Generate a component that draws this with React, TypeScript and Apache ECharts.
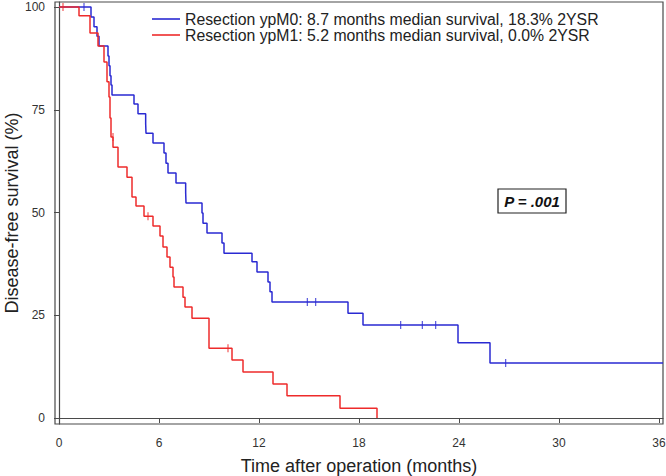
import React, { useEffect, useRef } from "react";
import * as echarts from "echarts";

// Kaplan-Meier steps: time (months) -> survival (%) after the drop
const m0Times = [0, 1.92, 2.1, 2.28, 2.4, 2.94, 3.0, 3.06, 3.12, 3.18, 4.5, 4.74, 5.2, 5.22, 5.64, 6.3, 6.42, 6.54, 7.02, 7.6, 7.62, 8.58, 8.64, 8.88, 9.78, 9.9, 11.58, 11.88, 12.54, 12.66, 12.78, 17.34, 18.24, 23.94, 25.86, 36.24];
const m0Surv = [100, 97.6, 95.2, 92.9, 90.5, 88.1, 85.7, 83.3, 81.0, 78.6, 76.4, 74.0, 71.6, 69.3, 66.9, 64.5, 62.0, 59.6, 57.2, 54.8, 52.3, 49.9, 47.4, 45.0, 42.6, 40.1, 38.0, 35.5, 33.1, 30.7, 28.2, 25.5, 22.6, 18.3, 13.4, 13.4];
const m0CensorTimes = [1.5, 14.9, 15.4, 20.5, 21.8, 22.6, 26.8];
const m0CensorSurv = [100, 28.2, 28.2, 22.6, 22.6, 22.6, 13.4];

const m1Times = [0, 1.2, 1.86, 2.34, 2.7, 2.88, 3.0, 3.06, 3.12, 3.24, 3.54, 4.08, 4.38, 4.62, 5.1, 5.64, 6.06, 6.24, 6.48, 6.66, 6.84, 6.9, 7.44, 7.56, 7.98, 9.0, 10.38, 11.04, 12.84, 13.68, 16.86, 19.08];
const m1Surv = [100, 97.9, 93.7, 90.5, 86.6, 81.8, 78.1, 73.0, 68.4, 65.9, 61.1, 58.6, 53.8, 51.6, 49.1, 46.7, 44.3, 41.6, 39.2, 36.7, 34.3, 31.9, 29.4, 27.0, 24.3, 17.0, 14.1, 11.2, 8.3, 5.4, 2.4, 0];
const m1CensorTimes = [0.24, 3.24, 5.34, 10.14];
const m1CensorSurv = [100, 68.4, 49.1, 17.0];

const xTicks = [0, 6, 12, 18, 24, 30, 36];
const yTicks = [0, 25, 50, 75, 100];

const nameM0 = "Resection ypM0: 8.7 months median survival, 18.3% 2YSR";
const nameM1 = "Resection ypM1: 5.2 months median survival, 0.0% 2YSR";
const pText = "P = .001";

const BLUE = "#2a2ad2";
const RED = "#ee2b2b";
const FONT = "Liberation Sans, Arial, sans-serif";

const zip = (a: number[], b: number[]) => a.map((v, i) => [v, b[i]]);

export default function App() {
  const ref = useRef<HTMLDivElement>(null);
  useEffect(() => {
    if (!ref.current) return;
    const chart = echarts.init(ref.current, undefined, { renderer: "svg" });
    chart.setOption({
      animation: false,
      backgroundColor: "#fff",
      textStyle: { fontFamily: FONT },
      grid: {
        left: 55,
        right: 3,
        top: 2,
        bottom: 52,
        containLabel: false,
        outerBoundsMode: "none",
        show: true,
        borderColor: "#4a4a4a",
        borderWidth: 1.2,
      },
      legend: {
        data: [nameM0, nameM1],
        left: 147,
        top: 6,
        orient: "vertical",
        icon: "rect",
        itemWidth: 28,
        itemHeight: 1.6,
        itemGap: 0,
        textStyle: { fontSize: 15.8, lineHeight: 15, color: "#222", fontFamily: FONT },
      },
      xAxis: {
        type: "value",
        min: -0.24,
        max: 36.24,
        axisLine: { show: true, lineStyle: { color: "#4a4a4a", width: 1.2 } },
        axisTick: { show: true, customValues: xTicks, length: 5, lineStyle: { color: "#4a4a4a" } },
        axisLabel: { customValues: xTicks, fontSize: 12, color: "#333", margin: 13, fontFamily: FONT },
        splitLine: { show: false },
        name: "Time after operation (months)",
        nameLocation: "middle",
        nameGap: 33,
        nameMoveOverlap: false,
        nameTextStyle: { fontSize: 18, color: "#222", fontFamily: FONT },
      },
      yAxis: {
        type: "value",
        min: -1.46,
        max: 101.22,
        axisLine: { show: true, lineStyle: { color: "#4a4a4a", width: 1.2 } },
        axisTick: { show: true, customValues: yTicks, length: 5, lineStyle: { color: "#4a4a4a" } },
        axisLabel: { customValues: yTicks, fontSize: 12, color: "#333", margin: 10, fontFamily: FONT },
        splitLine: { show: false },
        name: "Disease-free survival (%)",
        nameLocation: "middle",
        nameGap: 34,
        nameMoveOverlap: false,
        nameTextStyle: { fontSize: 18, color: "#222", fontFamily: FONT },
      },
      series: [
        {
          name: nameM0,
          type: "line",
          step: "end",
          data: zip(m0Times, m0Surv),
          showSymbol: false,
          lineStyle: { color: BLUE, width: 1.5 },
          itemStyle: { color: BLUE },
          z: 3,
        },
        {
          name: nameM1,
          type: "line",
          step: "end",
          data: zip(m1Times, m1Surv),
          showSymbol: false,
          lineStyle: { color: RED, width: 1.5 },
          itemStyle: { color: RED },
          z: 4,
        },
        {
          name: "m0 censored",
          type: "scatter",
          data: zip(m0CensorTimes, m0CensorSurv),
          symbol: "rect",
          symbolSize: [1.2, 8],
          itemStyle: { color: BLUE },
          z: 5,
        },
        {
          name: "m1 censored",
          type: "scatter",
          data: zip(m1CensorTimes, m1CensorSurv),
          symbol: "rect",
          symbolSize: [1.2, 8],
          itemStyle: { color: RED },
          z: 5,
        },
      ],
      graphic: [
        {
          type: "rect",
          shape: { x: 498, y: 189, width: 68, height: 24 },
          style: { fill: "#fff", stroke: "#222", lineWidth: 1.2 },
          z: 10,
        },
        {
          type: "text",
          x: 532,
          y: 201,
          style: {
            text: pText,
            font: `italic bold 15px ${FONT}`,
            fill: "#111",
            align: "center",
            verticalAlign: "middle",
          },
          z: 11,
        },
      ],
    });
    return () => chart.dispose();
  }, []);
  return <div ref={ref} style={{ position: "fixed", left: 0, top: 0, width: 666, height: 476 }} />;
}
